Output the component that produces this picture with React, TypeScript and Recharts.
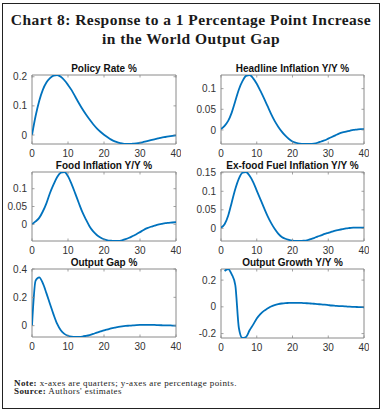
import React from 'react';
import { LineChart, Line, XAxis, YAxis, ReferenceArea } from 'recharts';

const quarters = Array.from({ length: 41 }, (_, i) => i);
const growthQuarters = Array.from({ length: 40 }, (_, i) => i + 1);
const xTicks = [0, 10, 20, 30, 40];

const policyRate = [0, 0.065, 0.117, 0.155, 0.18, 0.195, 0.204, 0.206, 0.2, 0.188, 0.172, 0.154, 0.132, 0.11, 0.089, 0.07, 0.053, 0.037, 0.023, 0.011, 0.001, -0.008, -0.016, -0.022, -0.026, -0.029, -0.031, -0.031, -0.03, -0.029, -0.027, -0.024, -0.021, -0.018, -0.015, -0.012, -0.009, -0.007, -0.005, -0.003, -0.001];
const headlineInflation = [0.002, 0.01, 0.022, 0.042, 0.07, 0.098, 0.118, 0.131, 0.133, 0.125, 0.112, 0.095, 0.077, 0.058, 0.039, 0.022, 0.008, -0.004, -0.014, -0.022, -0.028, -0.031, -0.033, -0.034, -0.034, -0.034, -0.033, -0.031, -0.028, -0.025, -0.021, -0.017, -0.013, -0.009, -0.006, -0.004, -0.002, 0, 0.001, 0.002, 0.002];
const foodInflation = [0, 0.008, 0.018, 0.036, 0.059, 0.088, 0.112, 0.133, 0.145, 0.147, 0.135, 0.113, 0.087, 0.06, 0.034, 0.013, -0.006, -0.02, -0.03, -0.037, -0.042, -0.045, -0.046, -0.047, -0.047, -0.045, -0.042, -0.038, -0.033, -0.028, -0.022, -0.016, -0.011, -0.007, -0.004, -0.001, 0.001, 0.003, 0.004, 0.005, 0.006];
const exFoodFuelInflation = [0.002, 0.011, 0.034, 0.07, 0.106, 0.134, 0.15, 0.152, 0.142, 0.125, 0.102, 0.079, 0.056, 0.034, 0.015, -0.001, -0.014, -0.023, -0.028, -0.031, -0.033, -0.034, -0.034, -0.033, -0.032, -0.029, -0.026, -0.022, -0.019, -0.015, -0.012, -0.009, -0.006, -0.004, -0.002, 0, 0.001, 0.002, 0.002, 0.002, 0.002];
const outputGap = [0, 0.318, 0.341, 0.3, 0.23, 0.153, 0.078, 0.012, -0.033, -0.058, -0.071, -0.077, -0.079, -0.079, -0.077, -0.072, -0.066, -0.058, -0.049, -0.041, -0.033, -0.026, -0.019, -0.014, -0.009, -0.005, -0.002, 0, 0.002, 0.004, 0.005, 0.005, 0.005, 0.005, 0.005, 0.004, 0.003, 0.002, 0.002, 0.001, 0.001];
const outputGrowth = [0.268, 0.283, 0.243, 0.163, -0.158, -0.233, -0.225, -0.175, -0.133, -0.088, -0.055, -0.03, -0.013, 0.003, 0.013, 0.02, 0.025, 0.028, 0.029, 0.03, 0.03, 0.03, 0.028, 0.027, 0.025, 0.023, 0.021, 0.018, 0.016, 0.013, 0.01, 0.008, 0.006, 0.005, 0.003, 0.001, 0, -0.001, -0.002, -0.003];

const panelTitles = ['Policy Rate %', 'Headline Inflation Y/Y %', 'Food Inflation Y/Y %', 'Ex-food Fuel Inflation Y/Y %', 'Output Gap %', 'Output Growth Y/Y %'];

const TICK_COLOR = '#333';
const BOX_COLOR = '#8a8a8a';
const LINE_COLOR = '#0072BD';
const SANS = '"Liberation Sans", Arial, sans-serif';
const SERIF = '"Liberation Serif", "Times New Roman", serif';

type PanelProps = {
  title: string;
  xs: number[];
  ys: number[];
  domain: [number, number];
  yTicks: number[];
  left: number;
  top: number;
  w: number;
  h: number;
};

const YL = 40;
const MT = 5;
const MR = 5;
const XH = 20;

function Panel({ title, xs, ys, domain, yTicks, left, top, w, h }: PanelProps) {
  const data = xs.map((x, i) => ({ x, y: ys[i] }));
  const XTick = (props: any) => {
    const { x, y, payload } = props;
    return (
      <g>
        <line x1={x} x2={x} y1={y} y2={y - 2.5} stroke={BOX_COLOR} strokeWidth={0.8} />
        <line x1={x} x2={x} y1={y - h} y2={y - h + 2.5} stroke={BOX_COLOR} strokeWidth={0.8} />
        <text x={x} y={y + 6} dy="0.71em" textAnchor="middle" fontSize={10} fontFamily={SANS} fill={TICK_COLOR}>
          {String(payload.value)}
        </text>
      </g>
    );
  };
  const YTick = (props: any) => {
    const { x, y, payload } = props;
    return (
      <g>
        <line x1={x} x2={x + 2.5} y1={y} y2={y} stroke={BOX_COLOR} strokeWidth={0.8} />
        <line x1={x + w} x2={x + w - 2.5} y1={y} y2={y} stroke={BOX_COLOR} strokeWidth={0.8} />
        <text x={x - 5} y={y} dy="0.355em" textAnchor="end" fontSize={10} fontFamily={SANS} fill={TICK_COLOR}>
          {String(payload.value)}
        </text>
      </g>
    );
  };
  return (
    <>
      <div
        style={{
          position: 'absolute',
          left,
          top: top - 11.5,
          width: w,
          textAlign: 'center',
          fontFamily: SANS,
          fontWeight: 'bold',
          fontSize: 10,
          lineHeight: '10px',
          color: '#111',
          whiteSpace: 'nowrap',
        }}
      >
        {title}
      </div>
      <div style={{ position: 'absolute', left: left - YL, top: top - MT }}>
        <LineChart
          width={YL + w + MR}
          height={MT + h + XH}
          data={data}
          margin={{ top: MT, right: MR, bottom: 0, left: 0 }}
        >
          <XAxis
            dataKey="x"
            type="number"
            domain={[0, 40]}
            ticks={xTicks}
            interval={0}
            height={XH}
            tickSize={0}
            tickMargin={0}
            tickLine={false}
            axisLine={false}
            tick={<XTick />}
            allowDataOverflow
          />
          <YAxis
            type="number"
            domain={domain}
            ticks={yTicks}
            interval={0}
            width={YL}
            tickSize={0}
            tickMargin={0}
            tickLine={false}
            axisLine={false}
            tick={<YTick />}
            allowDataOverflow
          />
          <ReferenceArea x1={0} x2={40} y1={domain[0]} y2={domain[1]} fill="none" fillOpacity={0} stroke={BOX_COLOR} strokeWidth={1} />
          <Line
            type="monotone"
            dataKey="y"
            stroke={LINE_COLOR}
            strokeWidth={1.8}
            dot={false}
            isAnimationActive={false}
          />
        </LineChart>
      </div>
    </>
  );
}

export default function App() {
  return (
    <div style={{ position: 'absolute', left: 0, top: 0, width: 382, height: 411, background: '#fff' }}>
      <div
        style={{
          position: 'absolute',
          left: 2,
          top: 3,
          width: 378,
          height: 406,
          border: '1.5px solid #222',
          boxSizing: 'border-box',
        }}
      />
      <div
        style={{
          position: 'absolute',
          left: 0,
          top: 10,
          width: 382,
          textAlign: 'center',
          fontFamily: SERIF,
          fontWeight: 'bold',
          fontSize: 15.5,
          letterSpacing: 0.45,
          lineHeight: '19px',
          color: '#1a1a1a',
          whiteSpace: 'nowrap',
        }}
      >
        Chart 8: Response to a 1 Percentage Point Increase
        <br />
        in the World Output Gap
      </div>
      <Panel title={panelTitles[0]} xs={quarters} ys={policyRate} domain={[-0.031, 0.206]} yTicks={[0, 0.1, 0.2]} left={32} top={75} w={144} h={69} />
      <Panel title={panelTitles[1]} xs={quarters} ys={headlineInflation} domain={[-0.034, 0.133]} yTicks={[0, 0.05, 0.1]} left={221} top={75} w={143} h={69} />
      <Panel title={panelTitles[2]} xs={quarters} ys={foodInflation} domain={[-0.047, 0.147]} yTicks={[0, 0.05, 0.1]} left={32} top={172} w={144} h={69} />
      <Panel title={panelTitles[3]} xs={quarters} ys={exFoodFuelInflation} domain={[-0.034, 0.152]} yTicks={[0, 0.05, 0.1, 0.15]} left={221} top={172} w={143} h={69} />
      <Panel title={panelTitles[4]} xs={quarters} ys={outputGap} domain={[-0.08, 0.4]} yTicks={[0, 0.2, 0.4]} left={32} top={269} w={144} h={68} />
      <Panel title={panelTitles[5]} xs={growthQuarters} ys={outputGrowth} domain={[-0.233, 0.283]} yTicks={[-0.2, 0, 0.2]} left={221} top={269} w={143} h={69} />
      <div
        style={{
          position: 'absolute',
          left: 14,
          top: 378.5,
          fontFamily: SERIF,
          fontSize: 9,
          letterSpacing: 0.4,
          lineHeight: '8.5px',
          color: '#222',
          whiteSpace: 'nowrap',
        }}
      >
        <div><b>Note:</b> x-axes are quarters; y-axes are percentage points.</div>
        <div><b>Source:</b> Authors' estimates</div>
      </div>
    </div>
  );
}
